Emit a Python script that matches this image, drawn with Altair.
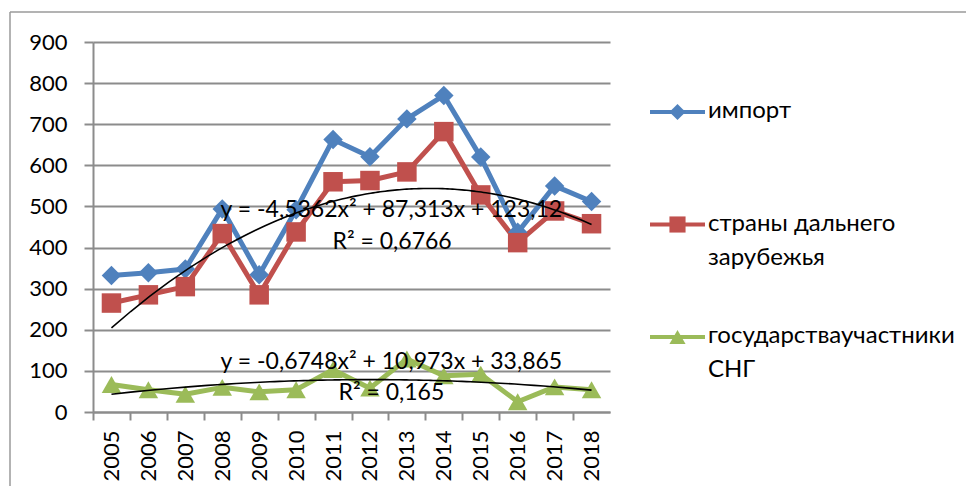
import altair as alt
import pandas as pd

YEARS = list(range(2005, 2019))
SERIES = ["импорт", "страны дальнего зарубежья", "государстваучастники СНГ"]
IMPORT = [332, 339, 348, 494, 334, 492, 663, 621, 713, 770, 620, 437, 550, 512]
FAR = [265, 285, 305, 434, 285, 438, 560, 563, 584, 682, 528, 412, 489, 458]
CIS = [67, 54, 43, 60, 49, 54, 103, 58, 129, 88, 92, 25, 61, 54]
LEGEND_LABELS = ["импорт", "страны дальнего\nзарубежья", "государстваучастники\nСНГ"]
COLORS = ["#4F81BD", "#C0504D", "#9BBB59"]
SHAPES = ["diamond", "square", "triangle-up"]
MARKER_SIZES = [380, 380, 480]
Y_TICKS = list(range(0, 1000, 100))
EQ_FAR = "y = -4,5362x² + 87,313x + 123,12"
R2_FAR = "R² = 0,6766"
EQ_CIS = "y = -0,6748x² + 10,973x + 33,865"
R2_CIS = "R² = 0,165"

FONT = "Lato"
GRAY = "#8c8c8c"
W, H = 517, 370
BAND = W / len(YEARS)

rows = []
for name, vals in zip(SERIES, [IMPORT, FAR, CIS]):
    for yr, v in zip(YEARS, vals):
        rows.append({"series": name, "year": yr, "value": v})
df = pd.DataFrame(rows)
legend_df = pd.DataFrame({"series": SERIES, "label": LEGEND_LABELS})

color_scale = alt.Scale(domain=SERIES, range=COLORS)
shape_scale = alt.Scale(domain=SERIES, range=SHAPES)
x_scale = alt.Scale(domain=[2004.5, 2018.5], nice=False, zero=False)
y_scale = alt.Scale(domain=[0, 900], nice=False)

x_axis = alt.Axis(
    values=YEARS + [2019], format="d",
    labelExpr="datum.value > 2018 ? '' : datum.label",
    labelAngle=-90, tickOffset=-BAND / 2, labelOffset=BAND / 2,
    ticks=True, tickSize=8, tickWidth=2, tickColor=GRAY,
    domainColor=GRAY, domainWidth=2,
    grid=False, labelFontSize=22, labelFont=FONT, labelColor="black",
    labelPadding=10, labelOverlap=False, labelFlush=False, title=None,
)
y_axis = alt.Axis(
    values=Y_TICKS, tickSize=9, tickWidth=2, tickColor=GRAY,
    domainColor=GRAY, domainWidth=2, gridColor=GRAY, gridWidth=2,
    labelFontSize=22, labelFont=FONT, labelColor="black",
    labelPadding=17, labelOverlap=False, title=None,
)
x_enc = alt.X("year:Q", scale=x_scale, axis=x_axis)
y_enc = alt.Y("value:Q", scale=y_scale, axis=y_axis)

base = alt.Chart(df)
lines = base.mark_line(strokeWidth=5, strokeJoin="round").encode(
    x=x_enc, y=y_enc,
    color=alt.Color("series:N", scale=color_scale, legend=None),
    detail="series:N",
)
points = base.mark_point(filled=True, opacity=1).encode(
    x=x_enc, y=y_enc,
    color=alt.Color("series:N", scale=color_scale, legend=None),
    shape=alt.Shape("series:N", scale=shape_scale, legend=None),
    size=alt.Size("series:N", scale=alt.Scale(domain=SERIES, range=MARKER_SIZES), legend=None),
)
trend = base.transform_filter(
    alt.FieldOneOfPredicate(field="series", oneOf=[SERIES[1], SERIES[2]])
).transform_regression(
    "year", "value", method="poly", order=2, groupby=["series"]
).mark_line(color="black", strokeWidth=1.6).encode(
    x=x_enc, y=y_enc, detail="series:N"
)


def note(text, xv, yv):
    return alt.Chart(pd.DataFrame({"t": [text]})).mark_text(
        font=FONT, fontSize=23, color="black", align="center", baseline="middle"
    ).encode(
        x=alt.X(datum=xv, type="quantitative", scale=x_scale, axis=x_axis),
        y=alt.Y(datum=yv, type="quantitative", scale=y_scale, axis=y_axis),
        text="t:N",
    )


notes = [
    note(EQ_FAR, 2012.58, 491),
    note(R2_FAR, 2012.6, 413),
    note(EQ_CIS, 2012.58, 122),
    note(R2_CIS, 2012.58, 46),
]

border = alt.Chart(pd.DataFrame({"k": [0]})).mark_rule(color="#9a9a9a", strokeWidth=1.5)
border_top = border.encode(x=alt.value(-83), x2=alt.value(W + 400), y=alt.value(-30))
border_left = border.encode(x=alt.value(-83), y=alt.value(-30), y2=alt.value(H + 200))

main = alt.layer(lines, points, trend, *notes, border_top, border_left)

leg_y = alt.Y("series:N", scale=alt.Scale(type="point", domain=SERIES, range=[70, 295], padding=0), axis=None)
lbase = alt.Chart(legend_df)
leg_rule = lbase.mark_rule(strokeWidth=4).encode(
    x=alt.value(557), x2=alt.value(612), y=leg_y,
    color=alt.Color("series:N", scale=color_scale, legend=None),
)
leg_pt = lbase.mark_point(filled=True, opacity=1, size=260).encode(
    x=alt.value(584.5), y=leg_y,
    color=alt.Color("series:N", scale=color_scale, legend=None),
    shape=alt.Shape("series:N", scale=shape_scale, legend=None),
)
leg_txt = lbase.mark_text(
    font=FONT, fontSize=24, color="black", align="left", baseline="alphabetic",
    dy=6, lineBreak="\n", lineHeight=34,
).encode(x=alt.value(615), y=leg_y, text="label:N")
legend = alt.layer(leg_rule, leg_pt, leg_txt)

chart = alt.layer(main, legend).resolve_scale(
    y="independent", color="independent", shape="independent"
).properties(
    width=W, height=H,
    autosize=alt.AutoSizeParams(type="none"),
    padding={"left": 85, "top": 34, "right": 356, "bottom": 74},
).configure_view(stroke=None)

chart.save("out.html", embed_options={"renderer": "svg", "actions": False})
